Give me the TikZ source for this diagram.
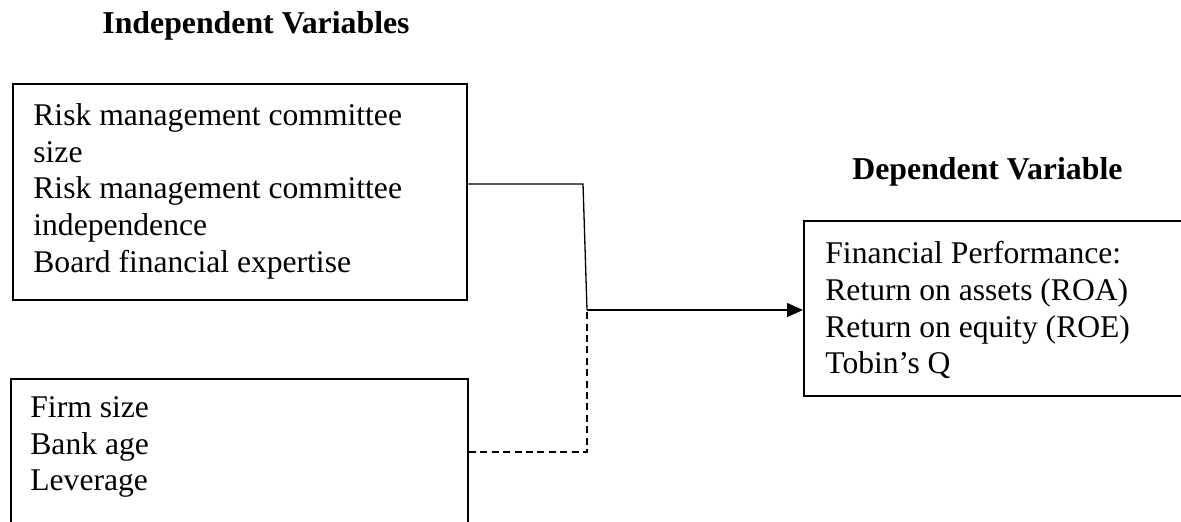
\documentclass[tikz,border=0pt]{standalone}
\usepackage{fontspec}
\setmainfont{Liberation Serif}
\usetikzlibrary{arrows.meta}
\begin{document}
\begin{tikzpicture}[y=-.5pt, x=.5pt, font=\fontsize{15.8}{18.35}\selectfont,
  box/.style={draw, line width=1pt, anchor=north west, inner sep=0pt},
  body/.style={anchor=north west, inner sep=0pt, align=left},
  head/.style={anchor=base west, inner sep=0pt, font=\fontsize{15.9}{18.35}\selectfont\bfseries},
  link/.style={line width=.65pt}]
\clip (0,0) rectangle (1181,521);

\node[head] (ivhead) at (102,33) {Independent Variables};
\node[head] (dvhead) at (852,179) {Dependent Variable};

\node[box, minimum width=227pt, minimum height=108pt] (rmc) at (12,83) {};
\node[box, minimum width=228.5pt, minimum height=91pt] (ctrl) at (10,378) {};
\node[box, minimum width=198.5pt, minimum height=87.5pt] (perf) at (803,220) {};

\node[body] (rmctext) at (33,103) {Risk management committee\\ size\\ Risk management committee\\ independence\\ Board financial expertise};
\node[body] (ctrltext) at (30,396) {Firm size\\ Bank age\\ Leverage};
\node[body] (perftext) at (825,241) {Financial Performance:\\ Return on assets (ROA)\\ Return on equity (ROE)\\ Tobin's Q};

\coordinate (bend) at (583,184);
\coordinate (join) at (587,310);
\coordinate (low) at (587,452);
\draw[link] (rmc.east |- bend) -- (bend) -- (join);
\draw[link, -{Triangle[length=8pt,width=7pt]}] (join) -- (join -| perf.west);
\draw[link, dash pattern=on 3.5pt off 2.2pt] (ctrl.east |- low) -- (low) -- (join);
\end{tikzpicture}
\end{document}
